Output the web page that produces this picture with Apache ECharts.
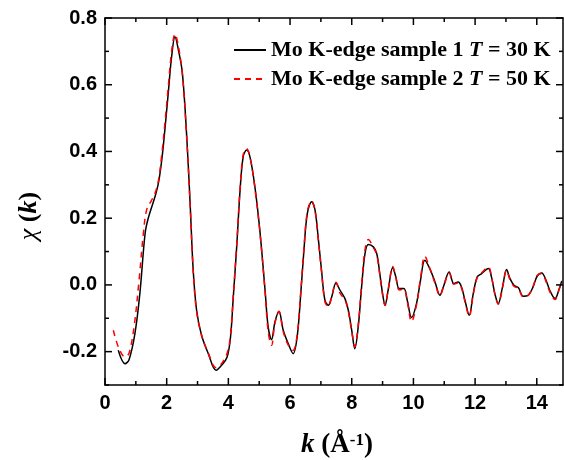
<!DOCTYPE html>
<html>
<head>
<meta charset="utf-8">
<script src="https://cdn.jsdelivr.net/npm/echarts/dist/echarts.min.js"></script>
<style>html,body{margin:0;padding:0;background:#fff;}#c{width:564px;height:460px;}#err{position:absolute;left:120px;top:120px;font:12px sans-serif;color:#c00;}</style>
</head>
<body>
<div id="c"></div>
<div id="err"></div>
<script>
// ---- data ----
const seriesNames = ['Mo K-edge sample 1 T = 30 K', 'Mo K-edge sample 2 T = 50 K'];

const k1 = [0.43,0.65,0.78,0.97,1.13,1.30,1.40,1.62,1.73,1.84,1.94,2.05,2.16,2.27,2.38,2.51,2.65,2.76,2.86,2.97,3.13,3.35,3.60,3.78,3.96,4.07,4.16,4.27,4.38,4.48,4.59,4.70,4.86,5.02,5.19,5.29,5.40,5.51,5.64,5.78,5.94,6.10,6.23,6.34,6.45,6.56,6.70,6.81,6.91,7.02,7.13,7.24,7.35,7.49,7.62,7.78,7.89,8.00,8.10,8.21,8.32,8.43,8.54,8.70,8.81,8.91,9.00,9.08,9.18,9.33,9.43,9.54,9.69,9.80,9.94,10.10,10.23,10.37,10.53,10.70,10.86,10.97,11.16,11.31,11.45,11.56,11.67,11.81,11.94,12.07,12.21,12.43,12.53,12.64,12.75,12.89,13.02,13.13,13.26,13.40,13.56,13.72,13.88,14.01,14.16,14.30,14.42,14.59,14.73,14.81];
const chi1 = [-0.196,-0.236,-0.224,-0.146,-0.026,0.154,0.199,0.264,0.304,0.374,0.464,0.574,0.684,0.744,0.704,0.634,0.444,0.244,0.044,-0.076,-0.151,-0.206,-0.256,-0.241,-0.216,-0.156,-0.036,0.114,0.284,0.384,0.404,0.384,0.294,0.164,-0.016,-0.126,-0.164,-0.111,-0.079,-0.136,-0.176,-0.206,-0.156,-0.036,0.104,0.214,0.249,0.224,0.144,0.044,-0.046,-0.061,-0.036,0.006,-0.016,-0.041,-0.076,-0.136,-0.191,-0.126,-0.006,0.094,0.121,0.114,0.094,0.034,-0.026,-0.061,-0.016,0.052,0.024,-0.011,-0.011,-0.046,-0.098,-0.056,0.014,0.074,0.049,0.009,-0.031,-0.006,0.039,0.004,0.009,-0.006,-0.046,-0.091,-0.026,0.024,0.034,0.049,0.024,-0.026,-0.056,-0.006,0.046,0.019,-0.001,-0.008,-0.034,-0.031,-0.006,0.026,0.036,0.014,-0.016,-0.041,-0.011,0.012];

const k2 = [0.27,0.45,0.65,0.78,0.95,1.10,1.25,1.35,1.50,1.62,1.73,1.84,1.94,2.05,2.16,2.27,2.38,2.51,2.65,2.76,2.86,2.97,3.13,3.35,3.60,3.78,3.96,4.07,4.16,4.27,4.38,4.48,4.59,4.70,4.86,5.02,5.19,5.29,5.40,5.51,5.64,5.78,5.94,6.10,6.23,6.34,6.45,6.56,6.70,6.81,6.91,7.02,7.13,7.24,7.35,7.49,7.62,7.78,7.89,8.00,8.10,8.21,8.32,8.43,8.54,8.70,8.81,8.91,9.00,9.08,9.18,9.33,9.43,9.54,9.69,9.80,9.94,10.10,10.23,10.37,10.53,10.70,10.86,10.97,11.16,11.31,11.45,11.56,11.67,11.81,11.94,12.07,12.21,12.43,12.53,12.64,12.75,12.89,13.02,13.13,13.26,13.40,13.56,13.72,13.88,14.01,14.16,14.30,14.42,14.59,14.73,14.81];
const chi2 = [-0.136,-0.190,-0.216,-0.205,-0.120,0.010,0.160,0.225,0.252,0.274,0.312,0.390,0.482,0.592,0.700,0.752,0.715,0.630,0.440,0.240,0.040,-0.080,-0.150,-0.205,-0.248,-0.236,-0.205,-0.150,-0.030,0.120,0.290,0.390,0.408,0.385,0.290,0.160,-0.020,-0.140,-0.181,-0.115,-0.080,-0.140,-0.180,-0.196,-0.150,-0.030,0.110,0.220,0.252,0.222,0.140,0.040,-0.050,-0.065,-0.035,0.008,-0.025,-0.045,-0.080,-0.140,-0.185,-0.120,0.000,0.105,0.136,0.112,0.090,0.030,-0.030,-0.062,-0.015,0.055,0.022,-0.015,-0.012,-0.050,-0.110,-0.060,0.020,0.086,0.050,0.005,-0.032,-0.008,0.036,0.002,0.006,-0.010,-0.050,-0.094,-0.028,0.022,0.036,0.054,0.026,-0.028,-0.058,-0.008,0.044,0.016,-0.004,-0.010,-0.036,-0.032,-0.004,0.028,0.034,0.010,-0.020,-0.044,-0.012,0.010];

const xRange = [0, 14.85];
const yRange = [-0.3, 0.8];
// tick values: labelled (major) and unlabelled (minor)
const xMajorTicks = [0, 2, 4, 6, 8, 10, 12, 14];
const xMinorTicks = [1, 3, 5, 7, 9, 11, 13];
const yMajorTicks = [-0.2, 0.0, 0.2, 0.4, 0.6, 0.8];
const yMinorTicks = [-0.3, -0.1, 0.1, 0.3, 0.5, 0.7];

// ---- layout / style ----
const W = 564, H = 460;
const G = { left: 105, right: 1, top: 18, bottom: 75 };
const MAJOR_LEN = 7, MINOR_LEN = 4;
const pxPerX = (W - G.left - G.right) / (xRange[1] - xRange[0]);
const pxPerY = (H - G.top - G.bottom) / (yRange[1] - yRange[0]);
const SANS = 'Liberation Sans';
const SERIF = 'Liberation Serif';
const BLACK = '#000';

const xMajorLast = xMajorTicks[xMajorTicks.length - 1];
const yMajorFirst = yMajorTicks[0], yMajorLast = yMajorTicks[yMajorTicks.length - 1];
const gMain = { left: G.left, right: G.right, top: G.top, bottom: G.bottom, outerBoundsMode: 'none' };
const gY = { left: G.left, right: G.right, top: G.top + (yRange[1] - yMajorLast) * pxPerY,
             bottom: G.bottom + (yMajorFirst - yRange[0]) * pxPerY, outerBoundsMode: 'none' };
const gX = { left: G.left + (xMajorTicks[0] - xRange[0]) * pxPerX, right: G.right + (xRange[1] - xMajorLast) * pxPerX,
             top: G.top, bottom: G.bottom, outerBoundsMode: 'none' };

function frameAxis(grid, pos, range) {
  return {
    type: 'value', gridIndex: grid, position: pos, min: range[0], max: range[1],
    axisLine: { show: true, onZero: false, lineStyle: { color: BLACK, width: 1.5 } },
    axisTick: { show: false }, minorTick: { show: false }, splitLine: { show: false }, axisLabel: { show: false }
  };
}
function labelAxis(grid, pos, min, max, step, fmt) {
  return {
    type: 'value', gridIndex: grid, position: pos, min: min, max: max, interval: step,
    axisLine: { show: false, onZero: false }, axisTick: { show: false }, minorTick: { show: false },
    splitLine: { show: false },
    axisLabel: { show: true, formatter: fmt, margin: 8, fontFamily: SANS, fontWeight: 'bold', fontSize: 20, color: BLACK }
  };
}
function hiddenAxis(grid) { return { type: 'value', gridIndex: grid, show: false, min: 0, max: 1, splitLine: { show: false } }; }

// tick marks drawn through the plot's own scales (api.coord)
function tickSeries(name, values, dim, len) {
  return {
    name: name, type: 'custom', xAxisIndex: 0, yAxisIndex: 0, clip: false, silent: true, z: 5,
    data: values.map(function (v) { return [v]; }),
    encode: dim === 'x' ? { x: 0 } : { y: 0 },
    renderItem: function (params, api) {
      const v = api.value(0);
      const st = { stroke: BLACK, lineWidth: 1.5 };
      if (dim === 'x') {
        const b = api.coord([v, yRange[0]]), t = api.coord([v, yRange[1]]);
        return { type: 'group', children: [
          { type: 'line', shape: { x1: b[0], y1: b[1], x2: b[0], y2: b[1] - len }, style: st },
          { type: 'line', shape: { x1: t[0], y1: t[1], x2: t[0], y2: t[1] + len }, style: st }
        ] };
      }
      const l = api.coord([xRange[0], v]), r = api.coord([xRange[1], v]);
      return { type: 'group', children: [
        { type: 'line', shape: { x1: l[0], y1: l[1], x2: l[0] + len, y2: l[1] }, style: st },
        { type: 'line', shape: { x1: r[0], y1: r[1], x2: r[0] - len, y2: r[1] }, style: st }
      ] };
    }
  };
}

try {
  const chart = echarts.init(document.getElementById('c'), null, { renderer: 'canvas' });
  chart.setOption({
    animation: false,
    backgroundColor: '#fff',
    grid: [gMain, gY, gX],
    xAxis: [
      frameAxis(0, 'bottom', xRange),
      frameAxis(0, 'top', xRange),
      hiddenAxis(1),
      labelAxis(2, 'bottom', xMajorTicks[0], xMajorLast, xMajorTicks[1] - xMajorTicks[0], function (v) { return String(Math.round(v)); })
    ],
    yAxis: [
      frameAxis(0, 'left', yRange),
      frameAxis(0, 'right', yRange),
      labelAxis(1, 'left', yMajorFirst, yMajorLast, +(yMajorTicks[1] - yMajorTicks[0]).toFixed(3), function (v) { return v.toFixed(1); }),
      hiddenAxis(2)
    ],
    legend: {
      orient: 'vertical', left: 228, top: 33,
      itemWidth: 32, itemHeight: 12, itemGap: 5,
      data: seriesNames,
      itemStyle: { color: 'rgba(0,0,0,0)', borderColor: 'rgba(0,0,0,0)', borderWidth: 0 },
      textStyle: {
        fontFamily: SERIF, fontWeight: 'bold', fontSize: 22, color: BLACK, lineHeight: 24,
        rich: { i: { fontFamily: SERIF, fontWeight: 'bold', fontStyle: 'italic', fontSize: 22, color: BLACK, lineHeight: 24 } }
      },
      formatter: function (name) {
        const p = name.split(' T ');
        return p[0] + ' {i|T} ' + p[1];
      }
    },
    graphic: [
      {
        type: 'text', x: 337, y: 432,
        style: {
          text: '{i|k} (Å{s|-1})',
          align: 'center', verticalAlign: 'top',
          font: 'bold 27px "Liberation Serif"', fill: BLACK,
          rich: {
            i: { fontFamily: SERIF, fontWeight: 'bold', fontStyle: 'italic', fontSize: 27 },
            s: { fontFamily: SERIF, fontWeight: 'bold', fontSize: 17, verticalAlign: 'top' }
          }
        }
      },
      {
        type: 'text', x: 29, y: 216, rotation: Math.PI / 2,
        style: {
          text: '{g|χ} ({i|k})',
          align: 'center', verticalAlign: 'middle',
          font: 'bold 26px "Liberation Serif"', fill: BLACK,
          rich: {
            g: { fontFamily: SERIF, fontStyle: 'italic', fontWeight: 'normal', fontSize: 26 },
            i: { fontFamily: SERIF, fontWeight: 'bold', fontStyle: 'italic', fontSize: 26 }
          }
        }
      }
    ],
    series: [
      {
        name: seriesNames[0], type: 'line', xAxisIndex: 0, yAxisIndex: 0,
        symbol: 'none', showSymbol: false, smooth: 0.35,
        lineStyle: { color: BLACK, width: 1.5, type: 'solid' },
        itemStyle: { color: BLACK },
        data: k1.map(function (k, i) { return [k, chi1[i]]; })
      },
      {
        name: seriesNames[1], type: 'line', xAxisIndex: 0, yAxisIndex: 0,
        symbol: 'none', showSymbol: false, smooth: 0.35,
        lineStyle: { color: '#ff0000', width: 1.5, type: [6, 5] },
        itemStyle: { color: '#ff0000' },
        data: k2.map(function (k, i) { return [k, chi2[i]]; })
      },
      tickSeries('xMajorTicks', xMajorTicks, 'x', MAJOR_LEN),
      tickSeries('xMinorTicks', xMinorTicks, 'x', MINOR_LEN),
      tickSeries('yMajorTicks', yMajorTicks, 'y', MAJOR_LEN),
      tickSeries('yMinorTicks', yMinorTicks, 'y', MINOR_LEN)
    ]
  });
} catch (e) {
  document.getElementById('err').textContent = 'ERR: ' + e.message;
}
</script>
</body>
</html>
